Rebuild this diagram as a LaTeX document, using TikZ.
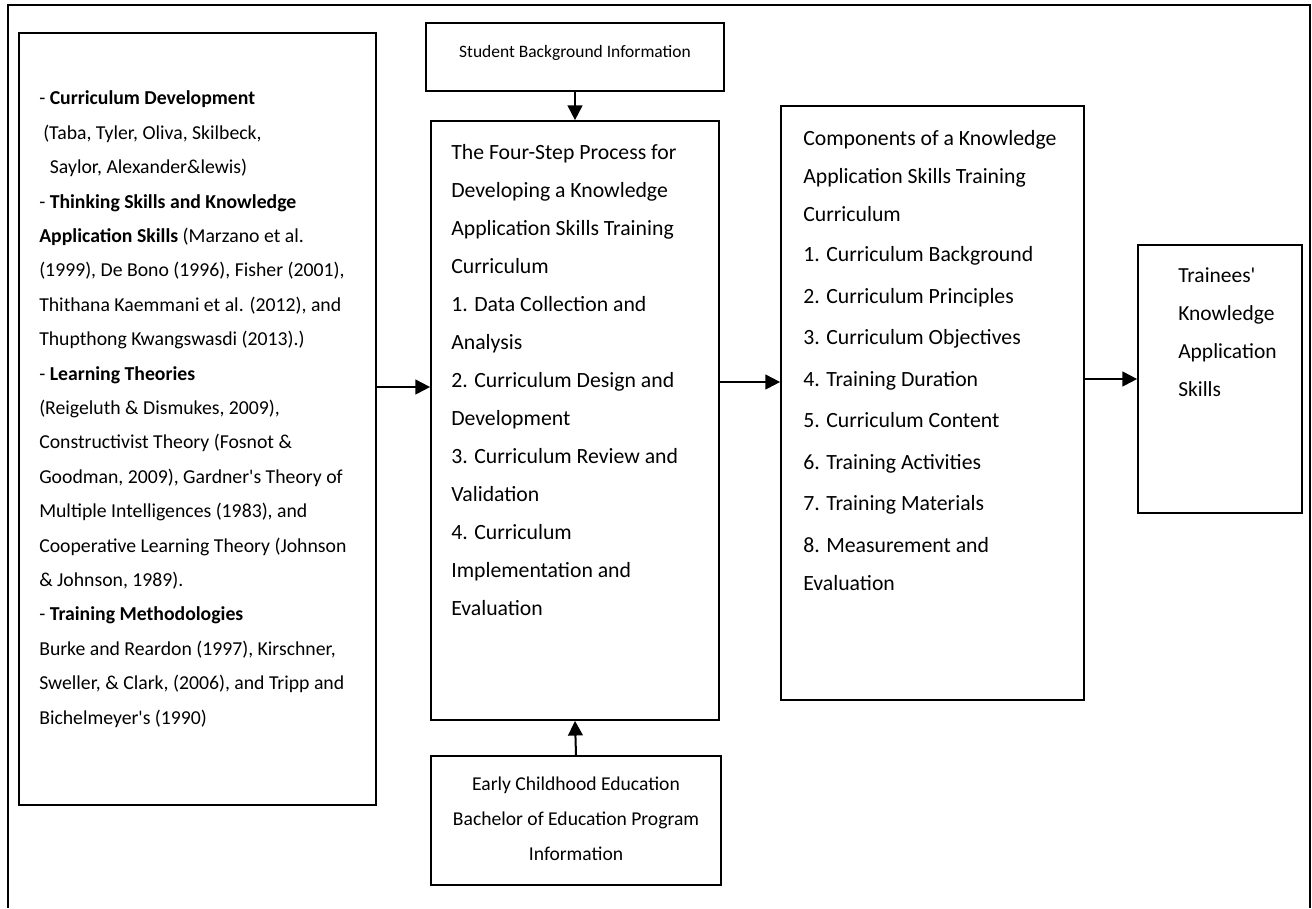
\documentclass[tikz,border=0pt]{standalone}
\usepackage{fontspec}
\setmainfont{Carlito}
\usetikzlibrary{fit,arrows.meta}
\newcommand{\sq}{\textquotesingle}
\begin{document}
\begin{tikzpicture}[x=0.75pt,y=-0.75pt,
  frame/.style={line width=1.4pt},
  box/.style={draw, line width=1.3pt, inner sep=0pt},
  txt/.style={inner sep=0pt, anchor=base west, align=left},
  ctxt/.style={inner sep=0pt, anchor=base, align=center},
  arr/.style={line width=1.5pt, -{Triangle[length=11pt,width=11pt]}},
  mainf/.style={font=\fontsize{16.3}{28.5}\selectfont},
  leftf/.style={font=\fontsize{14.8}{25.8}\selectfont},
  sbf/.style={font=\fontsize{13.1}{20}\selectfont},
  ecef/.style={font=\fontsize{14.7}{26}\selectfont},
  trf/.style={font=\fontsize{16.1}{28.5}\selectfont}]
\useasboundingbox (0,0) rectangle (1312,908);
\fill[white] (0,0) rectangle (1312,908);
% outer frame (open at the bottom)
\draw[frame] (8,908) -- (8,5) -- (1310,5) -- (1310,908);
% boxes
\node[box, fit={(19,33) (376,805)}] (lbox) {};
\node[box, fit={(426,23) (724,91)}] (sb) {};
\node[box, fit={(431,121) (719,720)}] (step) {};
\node[box, fit={(431,756) (721,885)}] (ece) {};
\node[box, fit={(781,106) (1084,700)}] (comp) {};
\node[box, fit={(1138,245) (1302,513)}] (tr) {};
% texts (anchored at the baseline of their last line)
\node[txt, leftf] (ltext) at (39,724) {%
- \textbf{Curriculum Development}\\
\hspace{3pt}(Taba, Tyler, Oliva, Skilbeck,\\
\hspace{8pt}Saylor, Alexander\&lewis)\\
- \textbf{Thinking Skills and Knowledge}\\
\textbf{Application Skills} (Marzano et al.\\
(1999), De Bono (1996), Fisher (2001),\\
Thithana Kaemmani et al. (2012), and\\
Thupthong Kwangswasdi (2013).)\\
- \textbf{Learning Theories}\\
(Reigeluth \& Dismukes, 2009),\\
Constructivist Theory (Fosnot \&\\
Goodman, 2009), Gardner\sq s Theory of\\
Multiple Intelligences (1983), and\\
Cooperative Learning Theory (Johnson\\
\& Johnson, 1989).\\
- \textbf{Training Methodologies}\\
Burke and Reardon (1997), Kirschner,\\
Sweller, \& Clark, (2006), and Tripp and\\
Bichelmeyer\sq s (1990)};
\node[ctxt, sbf] (sbtext) at (575,57) {Student Background Information};
\node[txt, mainf] (steptext) at (451,615) {%
The Four-Step Process for\\
Developing a Knowledge\\
Application Skills Training\\
Curriculum\\
1. Data Collection and\\
Analysis\\
2. Curriculum Design and\\
Development\\
3. Curriculum Review and\\
Validation\\
4. Curriculum\\
Implementation and\\
Evaluation};
\node[ctxt, ecef] (ecetext) at (576,860) {%
Early Childhood Education\\
Bachelor of Education Program\\
Information};
\node[txt, mainf] (comptext) at (803,590) {%
Components of a Knowledge\\
Application Skills Training\\
Curriculum\\[1.5pt]
1. Curriculum Background\\[2.6pt]
2. Curriculum Principles\\[2.6pt]
3. Curriculum Objectives\\[2.6pt]
4. Training Duration\\[2.6pt]
5. Curriculum Content\\[2.6pt]
6. Training Activities\\[2.6pt]
7. Training Materials\\[2.6pt]
8. Measurement and\\
Evaluation};
\node[txt, trf] (trtext) at (1178,396) {%
Trainees\sq\\
Knowledge\\
Application\\
Skills};
% connectors
\draw[arr] (lbox.east |- 0,387) -- (step.west |- 0,387);
\draw[arr] (step.east |- 0,382) -- (comp.west |- 0,382);
\draw[arr] (comp.east |- 0,379) -- (tr.west |- 0,379);
\draw[arr] (sb.south) -- (step.north);
\draw[arr] (ece.north) -- (step.south);
\end{tikzpicture}
\end{document}
